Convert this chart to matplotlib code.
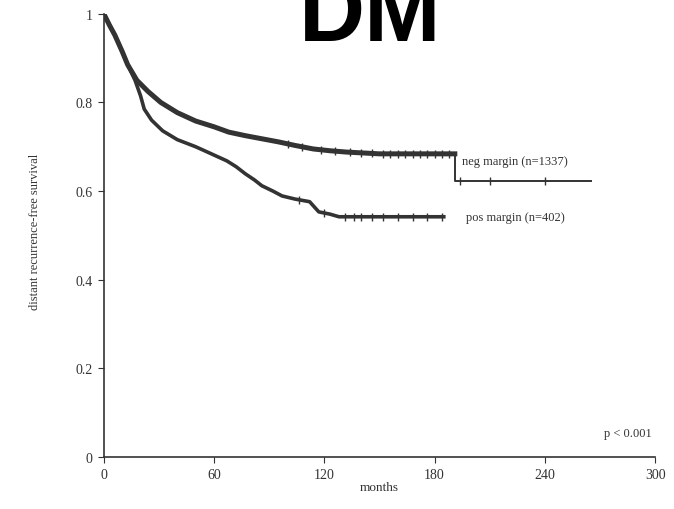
import numpy as np
import matplotlib.pyplot as plt

# Kaplan-Meier curves (months, survival)
neg_t = [0, 3, 6, 10, 13, 18, 24, 31, 40, 50, 60, 68, 77, 86, 95, 104, 114, 123, 132, 141, 150, 191]
neg_s = [1.0, 0.975, 0.952, 0.915, 0.885, 0.85, 0.825, 0.80, 0.777, 0.758, 0.745, 0.733, 0.725, 0.718, 0.711,
         0.703, 0.695, 0.691, 0.688, 0.686, 0.684, 0.684]
neg_tail_t = [191, 191, 265]
neg_tail_s = [0.684, 0.622, 0.622]
pos_t = [0, 3, 6, 10, 13, 17, 20, 22, 26, 32, 40, 50, 58, 67, 72, 77, 82, 86, 92, 97, 104, 112, 117, 123, 128, 185]
pos_s = [1.0, 0.975, 0.952, 0.915, 0.885, 0.85, 0.815, 0.785, 0.76, 0.736, 0.716, 0.70, 0.685, 0.668, 0.655,
         0.639, 0.625, 0.612, 0.60, 0.589, 0.582, 0.576, 0.553, 0.548, 0.542, 0.542]

# censored observations (tick marks)
neg_cens = [100, 108, 118, 126, 134, 140, 146, 152, 156, 160, 164, 168, 172, 176, 180, 184, 188]
neg_tail_cens = [194, 210, 240]
pos_cens = [106, 120, 131, 136, 140, 146, 152, 160, 168, 176, 184]

neg_label = 'neg margin (n=1337)'
pos_label = 'pos margin (n=402)'
p_text = 'p < 0.001'
x_ticks = [0, 60, 120, 180, 240, 300]
y_ticks = [0, 0.2, 0.4, 0.6, 0.8, 1]
y_ticklabels = ['0', '0.2', '0.4', '0.6', '0.8', '1']

plt.rcParams['font.family'] = ['Liberation Serif', 'DejaVu Serif']
ink = '#333333'

fig = plt.figure(figsize=(6.74, 5.10), dpi=100)
ax = fig.add_axes([0.154, 0.102, 0.818, 0.869])

# curves
ax.plot(neg_t, neg_s, color=ink, lw=3.6, solid_joinstyle='round')
ax.plot(neg_tail_t, neg_tail_s, color=ink, lw=1.4)
ax.plot(pos_t, pos_s, color=ink, lw=2.6, solid_joinstyle='round')

# censor marks sit on the curves
cens_kw = dict(ls='none', marker='|', ms=6, mew=1.0, color=ink)
ax.plot(neg_cens, np.interp(neg_cens, neg_t, neg_s), **cens_kw)
ax.plot(neg_tail_cens, np.interp(neg_tail_cens, neg_tail_t[1:], neg_tail_s[1:]), **cens_kw)
ax.plot(pos_cens, np.interp(pos_cens, pos_t, pos_s), **cens_kw)

ax.text(195, 0.668, neg_label, fontsize=9, color=ink, va='center', ha='left')
ax.text(197, 0.542, pos_label, fontsize=9, color=ink, va='center', ha='left')
ax.text(298, 0.055, p_text, fontsize=9, color=ink, va='center', ha='right')

ax.set_xlim(0, 300)
ax.set_ylim(0, 1)
ax.set_xticks(x_ticks)
ax.set_xticklabels([str(v) for v in x_ticks])
ax.set_yticks(y_ticks)
ax.set_yticklabels(y_ticklabels)
ax.spines['top'].set_visible(False)
ax.spines['right'].set_visible(False)
for sp in ['left', 'bottom']:
    ax.spines[sp].set_color(ink)
    ax.spines[sp].set_linewidth(1.2)
ax.tick_params(axis='both', direction='out', length=4, width=0.8, color=ink,
               labelsize=10, labelcolor=ink, pad=4)
ax.set_xlabel('months', fontsize=9.5, color=ink, labelpad=0)
fig.text(0.052, 0.545, 'distant recurrence-free survival', rotation=90, fontsize=9,
         color=ink, ha='center', va='center')

# big panel title, top is clipped by the figure edge as in the original
fig.text(0.549, 1 - 17 / 510, 'DM', fontsize=66, fontweight='bold',
         family='Liberation Sans', ha='center', va='center', color='black')

fig.savefig('out.png', dpi=100)
